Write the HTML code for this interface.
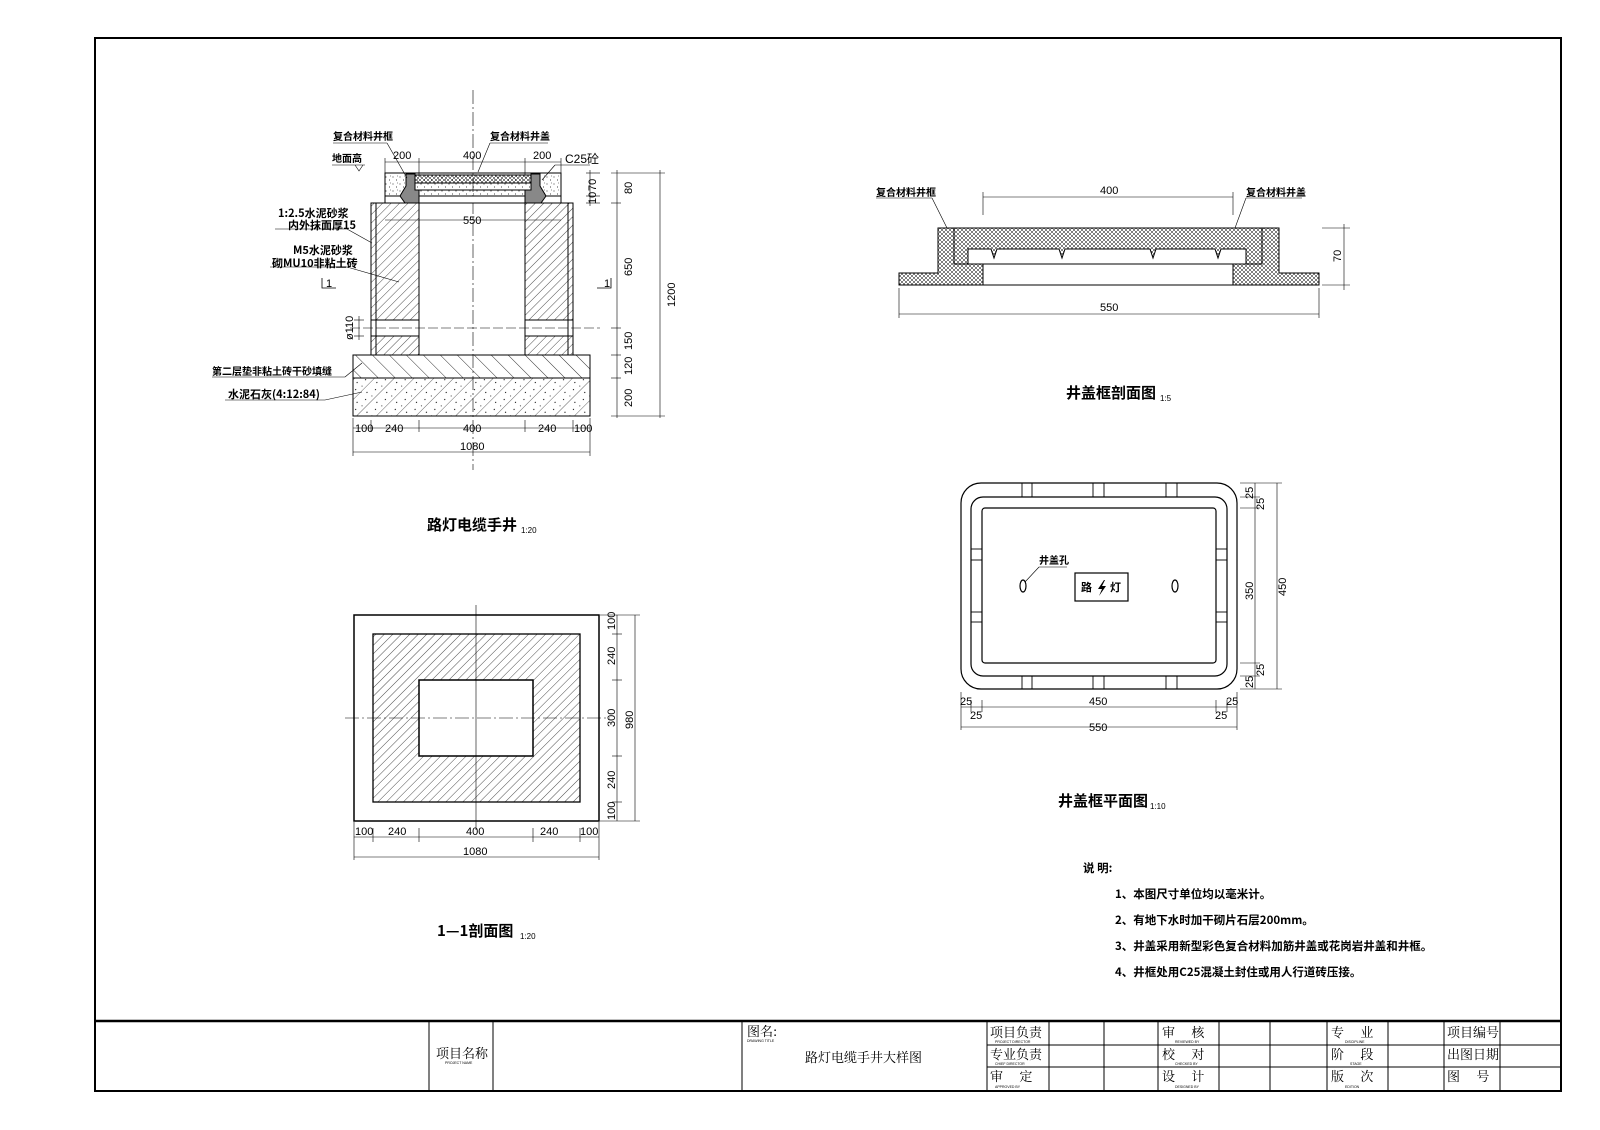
<!DOCTYPE html>
<html><head><meta charset="utf-8"><style>
html,body{margin:0;padding:0;background:#fff}
svg{display:block}
text{font-family:"Liberation Sans","Noto Sans CJK SC",sans-serif;fill:#000}
.d{font-size:11px}
.c{font-size:10px;font-weight:bold;font-family:"Noto Sans CJK SC","WenQuanYi Zen Hei",sans-serif}
.t{font-size:15px;font-weight:bold;font-family:"Noto Sans CJK SC","WenQuanYi Zen Hei",sans-serif}
.n{font-size:11.5px;font-weight:bold;font-family:"Noto Sans CJK SC","WenQuanYi Zen Hei",sans-serif}
.tb{font-size:13px;font-family:"Noto Serif CJK SC","Noto Sans CJK SC",serif}
.s{font-size:3.5px;font-family:"Liberation Sans",sans-serif}
</style></head><body>
<svg width="1600" height="1130" viewBox="0 0 1600 1130" xmlns="http://www.w3.org/2000/svg">
<defs>
<pattern id="h" width="6" height="6" patternUnits="userSpaceOnUse" patternTransform="rotate(45)"><line x1="0" y1="0" x2="0" y2="6" stroke="#000" stroke-width="0.7"/></pattern>
<pattern id="h2" width="12" height="12" patternUnits="userSpaceOnUse" patternTransform="rotate(-45)"><line x1="0" y1="0" x2="0" y2="12" stroke="#000" stroke-width="0.8"/></pattern>
<pattern id="x" width="4" height="4" patternUnits="userSpaceOnUse"><path d="M0 0L4 4M4 0L0 4" stroke="#000" stroke-width="0.5"/></pattern>
<pattern id="dt" width="7" height="7" patternUnits="userSpaceOnUse"><circle cx="1" cy="2" r="0.5" fill="#000"/><circle cx="4.5" cy="5" r="0.5" fill="#000"/><circle cx="5.5" cy="1" r="0.4" fill="#000"/></pattern>
<pattern id="cc" width="14" height="14" patternUnits="userSpaceOnUse" patternTransform="rotate(45)"><line x1="0" y1="0" x2="0" y2="14" stroke="#000" stroke-width="0.6"/><circle cx="5" cy="4" r="0.6" fill="#000"/><circle cx="9" cy="10" r="0.6" fill="#000"/><circle cx="11" cy="3" r="0.5" fill="#000"/></pattern>
</defs>
<g fill="none" stroke="#000">
<rect x="95" y="38" width="1466" height="1053" stroke-width="2"/>
<line x1="95" y1="1021" x2="1561" y2="1021" stroke-width="2.5"/>
<g stroke-width="1">
<line x1="429" y1="1021" x2="429" y2="1091"/><line x1="493" y1="1021" x2="493" y2="1091"/>
<line x1="742" y1="1021" x2="742" y2="1091"/><line x1="987" y1="1021" x2="987" y2="1091"/>
<line x1="1049" y1="1021" x2="1049" y2="1091"/><line x1="1104" y1="1021" x2="1104" y2="1091"/>
<line x1="1158" y1="1021" x2="1158" y2="1091"/><line x1="1219" y1="1021" x2="1219" y2="1091"/>
<line x1="1270" y1="1021" x2="1270" y2="1091"/><line x1="1327" y1="1021" x2="1327" y2="1091"/>
<line x1="1388" y1="1021" x2="1388" y2="1091"/><line x1="1444" y1="1021" x2="1444" y2="1091"/>
<line x1="1500" y1="1021" x2="1500" y2="1091"/>
<line x1="987" y1="1045" x2="1561" y2="1045"/><line x1="987" y1="1067" x2="1561" y2="1067"/>
</g>
</g>
<text class="tb" x="436" y="1058">项目名称</text><text class="s" x="445" y="1064">PROJECT NAME</text>
<text class="tb" x="747" y="1036">图名:</text><text class="s" x="747" y="1042">DRAWING TITLE</text>
<text class="tb" x="805" y="1062">路灯电缆手井大样图</text>
<text class="tb" x="990" y="1037">项目负责</text><text class="s" x="995" y="1043">PROJECT DIRECTOR</text>
<text class="tb" x="990" y="1059">专业负责</text><text class="s" x="995" y="1065">CHIEF DIRECTOR</text>
<text class="tb" x="990" y="1081">审　 定</text><text class="s" x="995" y="1088">APPROVED BY</text>
<text class="tb" x="1162" y="1037">审　 核</text><text class="s" x="1175" y="1043">REVIEWED BY</text>
<text class="tb" x="1162" y="1059">校　 对</text><text class="s" x="1175" y="1065">CHECKED BY</text>
<text class="tb" x="1162" y="1081">设　 计</text><text class="s" x="1175" y="1088">DESIGNED BY</text>
<text class="tb" x="1331" y="1037">专　 业</text><text class="s" x="1345" y="1043">DISCIPLINE</text>
<text class="tb" x="1331" y="1059">阶　 段</text><text class="s" x="1350" y="1065">STAGE</text>
<text class="tb" x="1331" y="1081">版　 次</text><text class="s" x="1345" y="1088">EDITION</text>
<text class="tb" x="1447" y="1037">项目编号</text><text class="tb" x="1447" y="1059">出图日期</text><text class="tb" x="1447" y="1081">图　 号</text>

<g stroke="#000" stroke-width="1" fill="none">
<line x1="473" y1="90" x2="473" y2="470" stroke-dasharray="14 3 2 3" stroke-width="0.6"/>
<rect x="353" y="378" width="237" height="38" fill="url(#cc)"/>
<rect x="353" y="355" width="237" height="23" fill="url(#h2)"/>
<rect x="371" y="203" width="48" height="152" fill="url(#h)"/>
<rect x="525" y="203" width="48" height="152" fill="url(#h)"/>
<rect x="371" y="320" width="48" height="16" fill="#fff"/>
<rect x="525" y="320" width="48" height="16" fill="#fff"/>
<line x1="376" y1="203" x2="376" y2="355"/><line x1="568" y1="203" x2="568" y2="355"/>
<line x1="350" y1="328" x2="600" y2="328" stroke-dasharray="10 3" stroke-width="0.6"/>
<rect x="385" y="173" width="176" height="23" fill="url(#dt)"/>
<rect x="385" y="196" width="176" height="7" fill="#fff"/>
<path d="M406 174 L415 174 L415 190 L419 190 L419 203 L405 203 L400 196 L406 186Z" fill="#888"/>
<path d="M540 174 L531 174 L531 190 L525 190 L525 203 L541 203 L546 196 L540 186Z" fill="#888"/>
<rect x="415" y="175" width="116" height="8" fill="url(#x)"/>
<line x1="419" y1="190" x2="525" y2="190"/>
<line x1="419" y1="196" x2="525" y2="196"/>
<g stroke-width="0.6">
<line x1="333" y1="143" x2="387" y2="143"/><line x1="387" y1="143" x2="407" y2="178"/>
<line x1="490" y1="143" x2="548" y2="143"/><line x1="490" y1="143" x2="478" y2="172"/>
<line x1="332" y1="165" x2="365" y2="165"/><path d="M355 165 l4 6 l4 -6"/>
<line x1="555" y1="165" x2="590" y2="165"/><line x1="555" y1="165" x2="542" y2="180"/>
<line x1="275" y1="229" x2="347" y2="229"/><line x1="347" y1="229" x2="372" y2="243"/>
<line x1="270" y1="267" x2="347" y2="267"/><line x1="347" y1="267" x2="399" y2="282"/>
<line x1="212" y1="377" x2="345" y2="377"/><line x1="345" y1="377" x2="362" y2="363"/>
<line x1="225" y1="400" x2="325" y2="400"/><line x1="325" y1="400" x2="362" y2="392"/>
<line x1="385" y1="162" x2="561" y2="162"/>
<line x1="385" y1="158" x2="385" y2="175"/><line x1="419" y1="158" x2="419" y2="175"/><line x1="525" y1="158" x2="525" y2="175"/><line x1="561" y1="158" x2="561" y2="175"/>
<line x1="385" y1="220" x2="561" y2="220"/>
<line x1="617" y1="170" x2="617" y2="418"/><line x1="660" y1="170" x2="660" y2="418"/>
<line x1="611" y1="173" x2="665" y2="173"/><line x1="611" y1="203" x2="621" y2="203"/><line x1="611" y1="328" x2="621" y2="328"/>
<line x1="611" y1="355" x2="621" y2="355"/><line x1="611" y1="378" x2="621" y2="378"/><line x1="611" y1="416" x2="665" y2="416"/>
<line x1="586" y1="173" x2="600" y2="173"/><line x1="586" y1="196" x2="600" y2="196"/><line x1="586" y1="203" x2="600" y2="203"/>
<line x1="590" y1="170" x2="590" y2="206"/>
<line x1="359" y1="316" x2="359" y2="340"/><line x1="354" y1="320" x2="364" y2="320"/><line x1="354" y1="336" x2="364" y2="336"/>
<path d="M322 278 v10 h14" stroke-width="0.8"/><path d="M611 278 v10 h-14" stroke-width="0.8"/>
<line x1="353" y1="428" x2="590" y2="428"/><line x1="353" y1="452" x2="590" y2="452"/>
<line x1="353" y1="418" x2="353" y2="456"/><line x1="590" y1="418" x2="590" y2="456"/>
<line x1="371" y1="420" x2="371" y2="432"/><line x1="419" y1="420" x2="419" y2="432"/><line x1="525" y1="420" x2="525" y2="432"/><line x1="573" y1="420" x2="573" y2="432"/>
</g>
</g>
<text class="c" x="333" y="140">复合材料井框</text>
<text class="c" x="490" y="140">复合材料井盖</text>
<text class="c" x="332" y="162">地面高</text>
<text class="d" x="565" y="163" style="font-size:12px">C25砼</text>
<text class="d" x="393" y="159">200</text><text class="d" x="463" y="159">400</text><text class="d" x="533" y="159">200</text>
<text class="d" x="463" y="224">550</text>
<text class="c" x="278" y="217" style="font-size:11px">1:2.5水泥砂浆</text>
<text class="c" x="288" y="229" style="font-size:11px">内外抹面厚15</text>
<text class="c" x="293" y="254" style="font-size:11px">M5水泥砂浆</text>
<text class="c" x="272" y="267" style="font-size:11px">砌MU10非粘土砖</text>
<text class="c" x="212" y="375">第二层垫非粘土砖干砂填缝</text>
<text class="c" x="228" y="398" style="font-size:11px">水泥石灰(4:12:84)</text>
<text class="d" x="326" y="287">1</text><text class="d" x="604" y="287">1</text>
<text class="d" transform="translate(353,340) rotate(-90)">ø110</text>
<text class="d" transform="translate(632,194) rotate(-90)">80</text>
<text class="d" transform="translate(632,276) rotate(-90)">650</text>
<text class="d" transform="translate(632,350) rotate(-90)">150</text>
<text class="d" transform="translate(632,375) rotate(-90)">120</text>
<text class="d" transform="translate(632,407) rotate(-90)">200</text>
<text class="d" transform="translate(675,307) rotate(-90)">1200</text>
<text class="d" transform="translate(596,204) rotate(-90)">10</text>
<text class="d" transform="translate(596,191) rotate(-90)">70</text>
<text class="d" x="355" y="432">100</text><text class="d" x="385" y="432">240</text><text class="d" x="463" y="432">400</text><text class="d" x="538" y="432">240</text><text class="d" x="574" y="432">100</text>
<text class="d" x="460" y="450">1080</text>
<text class="t" x="427" y="530">路灯电缆手井</text><text class="d" x="521" y="533" style="font-size:8px">1:20</text>

<g stroke="#000" fill="none">
<rect x="354" y="615" width="245" height="206" fill="#fff" stroke-width="1.5"/>
<rect x="373" y="634" width="207" height="168" fill="url(#h)" stroke-width="1.3"/>
<rect x="419" y="680" width="114" height="76" fill="#fff" stroke-width="1.5"/>
<g stroke-width="0.6">
<line x1="476" y1="605" x2="476" y2="830"/>
<line x1="345" y1="718" x2="610" y2="718" stroke-dasharray="14 3 2 3"/>
<line x1="617" y1="615" x2="617" y2="821"/><line x1="635" y1="615" x2="635" y2="821"/>
<line x1="600" y1="615" x2="640" y2="615"/><line x1="600" y1="821" x2="640" y2="821"/>
<line x1="612" y1="634" x2="622" y2="634"/><line x1="612" y1="680" x2="622" y2="680"/><line x1="612" y1="756" x2="622" y2="756"/><line x1="612" y1="802" x2="622" y2="802"/>
<line x1="354" y1="837" x2="599" y2="837"/><line x1="354" y1="857" x2="599" y2="857"/>
<line x1="354" y1="822" x2="354" y2="860"/><line x1="599" y1="822" x2="599" y2="860"/>
<line x1="373" y1="828" x2="373" y2="842"/><line x1="419" y1="828" x2="419" y2="842"/><line x1="533" y1="828" x2="533" y2="842"/><line x1="580" y1="828" x2="580" y2="842"/>
</g>
</g>
<text class="d" transform="translate(615,630) rotate(-90)">100</text>
<text class="d" transform="translate(615,665) rotate(-90)">240</text>
<text class="d" transform="translate(615,727) rotate(-90)">300</text>
<text class="d" transform="translate(615,789) rotate(-90)">240</text>
<text class="d" transform="translate(615,820) rotate(-90)">100</text>
<text class="d" transform="translate(633,729) rotate(-90)">980</text>
<text class="d" x="355" y="835">100</text><text class="d" x="388" y="835">240</text><text class="d" x="466" y="835">400</text><text class="d" x="540" y="835">240</text><text class="d" x="580" y="835">100</text>
<text class="d" x="463" y="855">1080</text>
<text class="t" x="437" y="936">1—1剖面图</text><text class="d" x="520" y="939" style="font-size:8px">1:20</text>

<g stroke="#000" stroke-width="1" fill="none">
<path d="M899 273 L938 273 L938 228 L954 228 L954 264 L983 264 L983 285 L899 285Z" fill="url(#x)"/>
<path d="M1319 273 L1279 273 L1279 228 L1262 228 L1262 264 L1233 264 L1233 285 L1319 285Z" fill="url(#x)"/>
<path d="M954 228 L1262 228 L1262 264 L954 264Z" fill="url(#x)"/>
<path d="M968 264 L968 249 L991 249 L994 258 L997 249 L1059 249 L1062 258 L1065 249 L1150 249 L1153 258 L1156 249 L1215 249 L1218 258 L1221 249 L1246 249 L1246 264Z" fill="#fff"/>
<line x1="983" y1="285" x2="1233" y2="285"/>
<g stroke-width="0.6">
<line x1="983" y1="197" x2="1233" y2="197"/><line x1="983" y1="192" x2="983" y2="215"/><line x1="1233" y1="192" x2="1233" y2="215"/>
<line x1="899" y1="314" x2="1319" y2="314"/><line x1="899" y1="288" x2="899" y2="318"/><line x1="1319" y1="288" x2="1319" y2="318"/>
<line x1="1322" y1="228" x2="1350" y2="228"/><line x1="1322" y1="285" x2="1350" y2="285"/><line x1="1344" y1="224" x2="1344" y2="290"/>
<line x1="876" y1="198" x2="932" y2="198"/><line x1="932" y1="198" x2="947" y2="228"/>
<line x1="1246" y1="198" x2="1302" y2="198"/><line x1="1246" y1="198" x2="1235" y2="228"/>
</g>
</g>
<text class="c" x="876" y="196">复合材料井框</text>
<text class="c" x="1246" y="196">复合材料井盖</text>
<text class="d" x="1100" y="194">400</text><text class="d" x="1100" y="311">550</text>
<text class="d" transform="translate(1341,262) rotate(-90)">70</text>
<text class="t" x="1066" y="398">井盖框剖面图</text><text class="d" x="1160" y="401" style="font-size:8px">1:5</text>

<g stroke="#000" stroke-width="1.2" fill="none">
<rect x="961" y="483" width="276" height="206" rx="20"/>
<rect x="971" y="497" width="256" height="179" rx="12"/>
<rect x="982" y="508" width="234" height="155" rx="3"/>
<g stroke-width="0.9">
<line x1="1022" y1="483" x2="1022" y2="497"/><line x1="1032" y1="483" x2="1032" y2="497"/>
<line x1="1093" y1="483" x2="1093" y2="497"/><line x1="1104" y1="483" x2="1104" y2="497"/>
<line x1="1166" y1="483" x2="1166" y2="497"/><line x1="1177" y1="483" x2="1177" y2="497"/>
<line x1="1022" y1="676" x2="1022" y2="689"/><line x1="1032" y1="676" x2="1032" y2="689"/>
<line x1="1093" y1="676" x2="1093" y2="689"/><line x1="1104" y1="676" x2="1104" y2="689"/>
<line x1="1166" y1="676" x2="1166" y2="689"/><line x1="1177" y1="676" x2="1177" y2="689"/>
<line x1="971" y1="549" x2="982" y2="549"/><line x1="971" y1="560" x2="982" y2="560"/>
<line x1="971" y1="612" x2="982" y2="612"/><line x1="971" y1="622" x2="982" y2="622"/>
<line x1="1216" y1="549" x2="1227" y2="549"/><line x1="1216" y1="560" x2="1227" y2="560"/>
<line x1="1216" y1="612" x2="1227" y2="612"/><line x1="1216" y1="622" x2="1227" y2="622"/>
</g>
<ellipse cx="1023" cy="586" rx="3" ry="6"/><ellipse cx="1175" cy="586" rx="3" ry="6"/>
<rect x="1075" y="573" width="53" height="28"/>
<path d="M1104 580 L1098 589 L1102 589 L1099 596 L1106 586 L1102 586 L1105 580Z" fill="#000" stroke="none"/>
<g stroke-width="0.6">
<line x1="1039" y1="567" x2="1067" y2="567"/><line x1="1039" y1="567" x2="1025" y2="582"/>
<line x1="1255" y1="483" x2="1255" y2="689"/><line x1="1277" y1="483" x2="1277" y2="689"/>
<line x1="1240" y1="483" x2="1282" y2="483"/><line x1="1240" y1="497" x2="1260" y2="497"/><line x1="1240" y1="508" x2="1260" y2="508"/>
<line x1="1240" y1="663" x2="1260" y2="663"/><line x1="1240" y1="676" x2="1260" y2="676"/><line x1="1240" y1="689" x2="1282" y2="689"/>
<line x1="961" y1="707" x2="1237" y2="707"/><line x1="961" y1="727" x2="1237" y2="727"/>
<line x1="961" y1="692" x2="961" y2="730"/><line x1="1237" y1="692" x2="1237" y2="730"/>
<line x1="971" y1="700" x2="971" y2="712"/><line x1="982" y1="700" x2="982" y2="712"/><line x1="1216" y1="700" x2="1216" y2="712"/><line x1="1227" y1="700" x2="1227" y2="712"/>
</g>
</g>
<text class="c" x="1039" y="564">井盖孔</text>
<text class="c" x="1081" y="591" style="font-size:11px">路</text>
<text class="c" x="1110" y="591" style="font-size:11px">灯</text>
<text class="d" transform="translate(1253,499) rotate(-90)">25</text>
<text class="d" transform="translate(1264,510) rotate(-90)">25</text>
<text class="d" transform="translate(1253,600) rotate(-90)">350</text>
<text class="d" transform="translate(1286,596) rotate(-90)">450</text>
<text class="d" transform="translate(1264,676) rotate(-90)">25</text>
<text class="d" transform="translate(1253,688) rotate(-90)">25</text>
<text class="d" x="960" y="705">25</text><text class="d" x="1089" y="705">450</text><text class="d" x="1226" y="705">25</text>
<text class="d" x="970" y="719">25</text><text class="d" x="1215" y="719">25</text>
<text class="d" x="1089" y="731">550</text>
<text class="t" x="1058" y="806">井盖框平面图</text><text class="d" x="1150" y="809" style="font-size:8px">1:10</text>

<text class="n" x="1083" y="872">说 明:</text>
<text class="n" x="1115" y="898">1、本图尺寸单位均以毫米计。</text>
<text class="n" x="1115" y="924">2、有地下水时加干砌片石层200mm。</text>
<text class="n" x="1115" y="950">3、井盖采用新型彩色复合材料加筋井盖或花岗岩井盖和井框。</text>
<text class="n" x="1115" y="976">4、井框处用C25混凝土封住或用人行道砖压接。</text>
</svg>
</body></html>
